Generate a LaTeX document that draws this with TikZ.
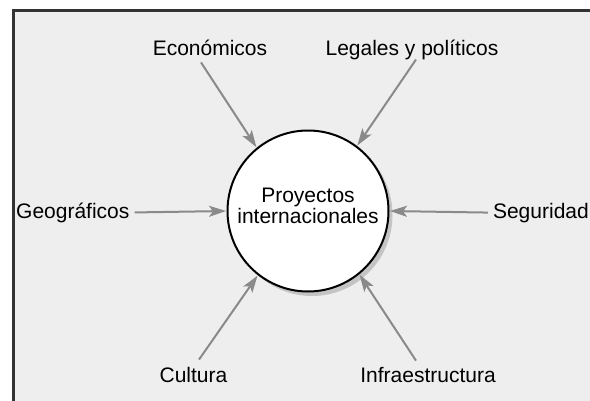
\documentclass[tikz,border=0pt]{standalone}
\usepackage{fontspec}
\setmainfont{Liberation Sans}
\usetikzlibrary{arrows.meta}
\definecolor{bgfill}{HTML}{EEEEEE}
\definecolor{framec}{HTML}{333333}
\definecolor{arrowc}{HTML}{8A8A8A}
\definecolor{shadowc}{HTML}{C4C4C4}
\tikzset{
  lbl/.style={inner sep=0pt, font=\fontsize{21}{21}\selectfont},
  infl/.style={draw=arrowc, line width=2pt, -{Stealth[length=17pt,width=11pt,inset=4pt]}, shorten >=0.5pt},
}
\begin{document}
\begin{tikzpicture}[x=1pt,y=-1pt]
\useasboundingbox (0,0) rectangle (590,400);
\fill[white] (0,0) rectangle (590,400);
\fill[bgfill] (13.5,10.5) rectangle (600,410);
\draw[framec, line width=3pt] (13.5,410) -- (13.5,10.5) -- (600,10.5);
% shadow and centre
\fill[shadowc] (312,215) ellipse [x radius=80.5, y radius=81];
\node[circle, draw=black, fill=white, line width=2pt, minimum size=161pt, inner sep=0pt] (c) at (308,211) {};
\node[lbl, align=center, font=\fontsize{21}{20.6}\selectfont] (ct) at (308,206) {Proyectos\\internacionales};
% labels
\node[lbl, anchor=base] (eco) at (210,55) {Económicos};
\node[lbl, anchor=base] (leg) at (412,55) {Legales y políticos};
\node[lbl, anchor=base west] (geo) at (16,218) {Geográficos};
\node[lbl, anchor=base east] (seg) at (589,218) {Seguridad};
\node[lbl, anchor=base] (cul) at (193.5,382) {Cultura};
\node[lbl, anchor=base] (inf) at (428,382) {Infraestructura};
% connectors
\draw[infl] ([xshift=-9pt,yshift=-7pt]eco.south) -- (c.129);
\draw[infl] ([xshift=4pt]leg.south) -- (c.53);
\draw[infl] ([xshift=5pt]geo.east) -- (c.180);
\draw[infl] ([xshift=-5pt]seg.west) -- (c.0);
\draw[infl] ([xshift=5.5pt,yshift=7pt]cul.north) -- (c.-128);
\draw[infl] ([xshift=-12pt,yshift=6pt]inf.north) -- (c.-51);
\end{tikzpicture}
\end{document}
